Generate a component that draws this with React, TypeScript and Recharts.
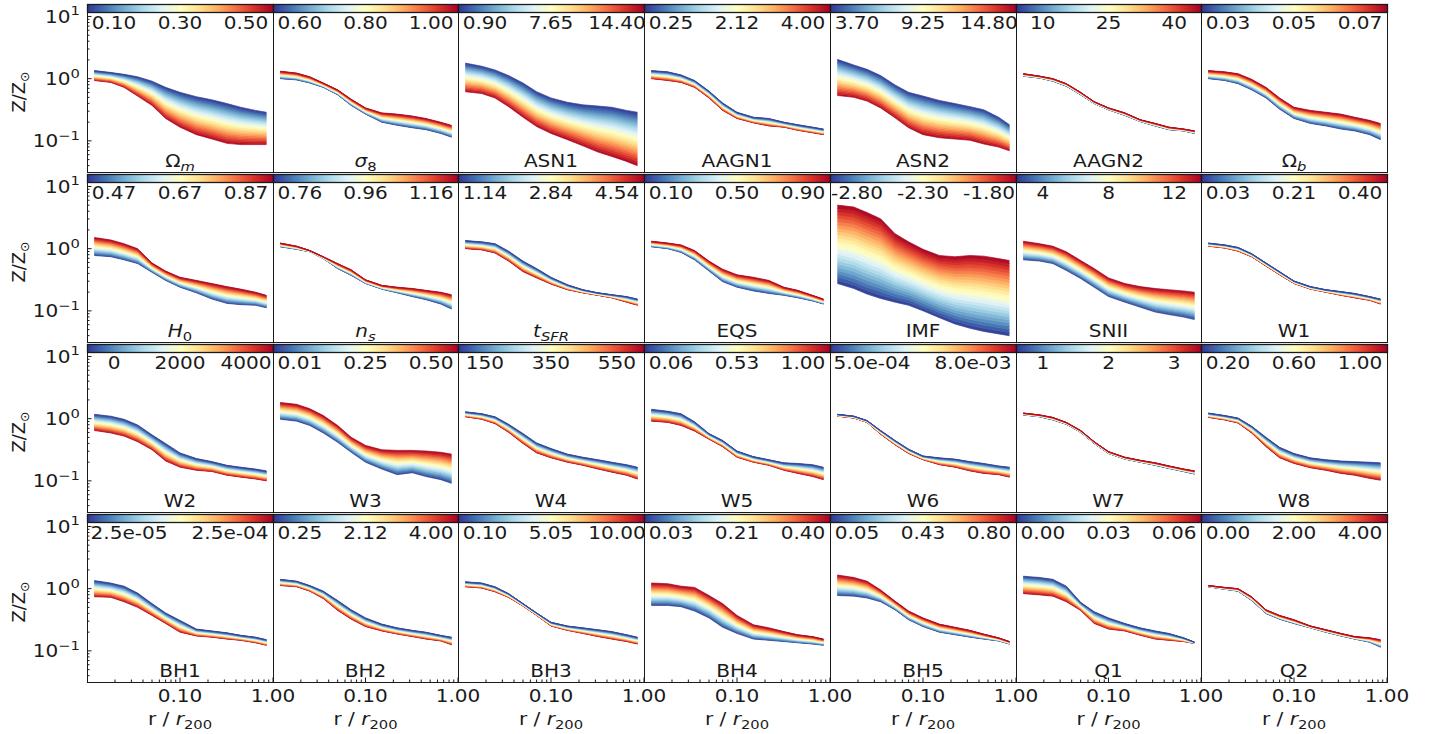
import { Area, ComposedChart, XAxis, YAxis } from "recharts";

// radial bins, r / r200
const radii = [0.012, 0.018, 0.025, 0.035, 0.05, 0.07, 0.1, 0.15, 0.22, 0.32, 0.45, 0.65, 0.85];

// log10(Z/Zsun): upper and lower edge of each family of profiles, read per radius
const omegaMTop = [0.13, 0.1, 0.07, 0.03, -0.04, -0.14, -0.22, -0.29, -0.34, -0.4, -0.46, -0.51, -0.54];
const omegaMBottom = [-0.03, -0.06, -0.14, -0.28, -0.43, -0.64, -0.78, -0.9, -0.97, -1.04, -1.06, -1.06, -1.06];
const sigma8Top = [0.12, 0.09, 0.03, -0.07, -0.18, -0.33, -0.47, -0.55, -0.57, -0.6, -0.64, -0.7, -0.75];
const sigma8Bottom = [0.0, -0.02, -0.07, -0.14, -0.26, -0.43, -0.57, -0.7, -0.75, -0.79, -0.82, -0.88, -0.94];
const asn1Top = [0.25, 0.2, 0.14, 0.05, -0.07, -0.21, -0.31, -0.38, -0.42, -0.44, -0.46, -0.51, -0.54];
const asn1Bottom = [-0.21, -0.24, -0.31, -0.45, -0.62, -0.77, -0.88, -0.98, -1.08, -1.18, -1.25, -1.33, -1.4];
const aagn1Top = [0.13, 0.11, 0.06, -0.03, -0.2, -0.39, -0.54, -0.62, -0.64, -0.7, -0.74, -0.78, -0.81];
const aagn1Bottom = [0.0, -0.03, -0.06, -0.14, -0.31, -0.51, -0.64, -0.71, -0.76, -0.78, -0.83, -0.87, -0.9];
const asn2Top = [0.31, 0.22, 0.15, 0.05, -0.1, -0.22, -0.28, -0.35, -0.4, -0.45, -0.5, -0.62, -0.74];
const asn2Bottom = [-0.27, -0.3, -0.36, -0.47, -0.63, -0.79, -0.9, -0.95, -0.97, -0.99, -1.05, -1.1, -1.16];
const aagn2Top = [0.08, 0.04, 0.0, -0.08, -0.22, -0.37, -0.47, -0.55, -0.66, -0.72, -0.78, -0.81, -0.84];
const aagn2Bottom = [0.04, 0.01, -0.04, -0.12, -0.26, -0.4, -0.5, -0.59, -0.69, -0.76, -0.82, -0.84, -0.88];
const omegaBTop = [0.13, 0.11, 0.08, -0.01, -0.14, -0.31, -0.46, -0.51, -0.54, -0.57, -0.62, -0.67, -0.72];
const omegaBBottom = [0.0, -0.03, -0.08, -0.18, -0.31, -0.49, -0.64, -0.72, -0.76, -0.81, -0.84, -0.9, -0.98];

const h0Top = [0.18, 0.14, 0.08, 0.0, -0.23, -0.36, -0.46, -0.51, -0.56, -0.61, -0.65, -0.7, -0.75];
const h0Bottom = [-0.11, -0.13, -0.18, -0.24, -0.38, -0.51, -0.62, -0.71, -0.81, -0.88, -0.9, -0.91, -0.95];
const nsTop = [0.09, 0.04, -0.03, -0.13, -0.24, -0.34, -0.5, -0.59, -0.62, -0.64, -0.67, -0.7, -0.74];
const nsBottom = [0.03, -0.01, -0.05, -0.16, -0.32, -0.43, -0.56, -0.65, -0.71, -0.77, -0.82, -0.89, -0.97];
const tsfrTop = [0.13, 0.11, 0.08, -0.04, -0.2, -0.32, -0.46, -0.58, -0.66, -0.71, -0.74, -0.77, -0.81];
const tsfrBottom = [0.0, -0.02, -0.07, -0.2, -0.37, -0.47, -0.57, -0.66, -0.71, -0.75, -0.79, -0.86, -0.91];
const eqsTop = [0.12, 0.09, 0.06, -0.03, -0.2, -0.33, -0.42, -0.46, -0.51, -0.62, -0.67, -0.75, -0.81];
const eqsBottom = [0.03, 0.0, -0.06, -0.18, -0.36, -0.53, -0.62, -0.68, -0.72, -0.75, -0.79, -0.84, -0.89];
const imfTop = [0.7, 0.67, 0.58, 0.48, 0.24, 0.11, -0.01, -0.11, -0.13, -0.11, -0.12, -0.16, -0.19];
const imfBottom = [-0.56, -0.64, -0.73, -0.8, -0.86, -0.91, -1.0, -1.11, -1.21, -1.28, -1.33, -1.37, -1.4];
const sniiTop = [0.12, 0.08, 0.04, -0.05, -0.19, -0.32, -0.47, -0.56, -0.61, -0.64, -0.66, -0.68, -0.7];
const sniiBottom = [-0.18, -0.2, -0.24, -0.35, -0.48, -0.62, -0.77, -0.86, -0.94, -1.02, -1.06, -1.1, -1.14];
const w1Top = [0.09, 0.06, 0.02, -0.08, -0.23, -0.37, -0.52, -0.61, -0.66, -0.69, -0.72, -0.77, -0.81];
const w1Bottom = [0.04, 0.01, -0.04, -0.13, -0.28, -0.42, -0.56, -0.65, -0.7, -0.75, -0.79, -0.83, -0.89];

const w2Top = [0.07, 0.04, -0.01, -0.1, -0.26, -0.4, -0.55, -0.64, -0.69, -0.75, -0.78, -0.81, -0.84];
const w2Bottom = [-0.19, -0.23, -0.28, -0.37, -0.5, -0.68, -0.78, -0.83, -0.85, -0.91, -0.94, -0.97, -1.0];
const w3Top = [0.26, 0.23, 0.16, 0.05, -0.11, -0.3, -0.43, -0.5, -0.51, -0.51, -0.52, -0.54, -0.57];
const w3Bottom = [-0.01, -0.04, -0.11, -0.23, -0.38, -0.54, -0.7, -0.81, -0.9, -0.87, -0.93, -0.98, -1.04];
const w4Top = [0.11, 0.08, 0.03, -0.09, -0.24, -0.39, -0.48, -0.57, -0.62, -0.66, -0.7, -0.74, -0.78];
const w4Bottom = [0.03, -0.01, -0.08, -0.22, -0.4, -0.55, -0.63, -0.7, -0.75, -0.81, -0.86, -0.91, -0.97];
const w5Top = [0.15, 0.12, 0.08, -0.05, -0.24, -0.35, -0.52, -0.61, -0.66, -0.71, -0.72, -0.74, -0.78];
const w5Bottom = [-0.04, -0.06, -0.11, -0.2, -0.33, -0.45, -0.62, -0.7, -0.75, -0.83, -0.88, -0.93, -0.98];
const w6Top = [0.07, 0.04, -0.03, -0.19, -0.35, -0.49, -0.6, -0.63, -0.65, -0.69, -0.72, -0.76, -0.78];
const w6Bottom = [0.04, 0.01, -0.06, -0.25, -0.42, -0.56, -0.66, -0.74, -0.78, -0.84, -0.88, -0.9, -0.94];
const w7Top = [0.09, 0.06, 0.02, -0.06, -0.19, -0.37, -0.53, -0.62, -0.67, -0.71, -0.76, -0.81, -0.84];
const w7Bottom = [0.06, 0.03, -0.02, -0.09, -0.22, -0.4, -0.56, -0.65, -0.7, -0.75, -0.8, -0.85, -0.89];
const w8Top = [0.09, 0.05, 0.01, -0.12, -0.3, -0.46, -0.56, -0.63, -0.66, -0.68, -0.69, -0.7, -0.71];
const w8Bottom = [0.02, -0.02, -0.07, -0.23, -0.45, -0.63, -0.72, -0.79, -0.83, -0.88, -0.91, -0.96, -0.99];

const bh1Top = [0.13, 0.09, 0.04, -0.07, -0.24, -0.39, -0.51, -0.65, -0.68, -0.71, -0.75, -0.78, -0.82];
const bh1Bottom = [-0.13, -0.14, -0.21, -0.3, -0.43, -0.56, -0.7, -0.76, -0.78, -0.81, -0.83, -0.87, -0.91];
const bh2Top = [0.15, 0.12, 0.05, -0.04, -0.19, -0.34, -0.47, -0.57, -0.63, -0.67, -0.7, -0.75, -0.78];
const bh2Bottom = [0.05, 0.03, -0.04, -0.16, -0.35, -0.49, -0.61, -0.68, -0.73, -0.77, -0.81, -0.84, -0.9];
const bh3Top = [0.11, 0.09, 0.03, -0.08, -0.24, -0.39, -0.54, -0.6, -0.63, -0.66, -0.69, -0.74, -0.78];
const bh3Bottom = [0.03, 0.01, -0.05, -0.14, -0.28, -0.43, -0.6, -0.67, -0.72, -0.77, -0.81, -0.85, -0.89];
const bh4Top = [0.09, 0.08, 0.04, 0.02, -0.11, -0.24, -0.43, -0.58, -0.63, -0.69, -0.74, -0.77, -0.81];
const bh4Bottom = [-0.27, -0.27, -0.29, -0.36, -0.47, -0.62, -0.72, -0.81, -0.83, -0.85, -0.87, -0.89, -0.91];
const bh5Top = [0.22, 0.18, 0.12, -0.02, -0.2, -0.36, -0.47, -0.57, -0.62, -0.67, -0.73, -0.79, -0.85];
const bh5Bottom = [-0.11, -0.12, -0.15, -0.21, -0.34, -0.5, -0.61, -0.7, -0.74, -0.78, -0.81, -0.84, -0.89];
const q1Top = [0.2, 0.18, 0.15, 0.04, -0.22, -0.37, -0.47, -0.56, -0.63, -0.68, -0.72, -0.79, -0.86];
const q1Bottom = [-0.08, -0.1, -0.12, -0.21, -0.35, -0.56, -0.65, -0.68, -0.75, -0.81, -0.83, -0.85, -0.88];
const q2Top = [0.05, 0.02, 0.0, -0.13, -0.34, -0.43, -0.5, -0.6, -0.66, -0.72, -0.77, -0.79, -0.82];
const q2Bottom = [0.03, -0.01, -0.04, -0.19, -0.4, -0.49, -0.56, -0.63, -0.7, -0.76, -0.81, -0.86, -0.94];

// colourbar tick labels, one list per row of panels
const cbarRow1 = [["0.10", "0.30", "0.50"], ["0.60", "0.80", "1.00"], ["0.90", "7.65", "14.40"], ["0.25", "2.12", "4.00"], ["3.70", "9.25", "14.80"], ["10", "25", "40"], ["0.03", "0.05", "0.07"]];
const cbarRow2 = [["0.47", "0.67", "0.87"], ["0.76", "0.96", "1.16"], ["1.14", "2.84", "4.54"], ["0.10", "0.50", "0.90"], ["-2.80", "-2.30", "-1.80"], ["4", "8", "12"], ["0.03", "0.21", "0.40"]];
const cbarRow3 = [["0", "2000", "4000"], ["0.01", "0.25", "0.50"], ["150", "350", "550"], ["0.06", "0.53", "1.00"], ["5.0e-04", "8.0e-03"], ["1", "2", "3"], ["0.20", "0.60", "1.00"]];
const cbarRow4 = [["2.5e-05", "2.5e-04"], ["0.25", "2.12", "4.00"], ["0.10", "5.05", "10.00"], ["0.03", "0.21", "0.40"], ["0.05", "0.43", "0.80"], ["0.00", "0.03", "0.06"], ["0.00", "2.00", "4.00"]];

const xTicks = [0.02, 0.03, 0.04, 0.05, 0.06, 0.07, 0.08, 0.09, 0.1, 0.2, 0.3, 0.4, 0.5, 0.6, 0.7, 0.8, 0.9, 1];
const yTicks = [0.04, 0.05, 0.06, 0.07, 0.08, 0.09, 0.1, 0.2, 0.3, 0.4, 0.5, 0.6, 0.7, 0.8, 0.9, 1, 2, 3, 4, 5, 6, 7, 8, 9, 10];

type Panel = {
  name: string; sub?: string; nameIt?: boolean; subIt?: boolean;
  top: number[]; bottom: number[]; redOnTop: boolean; cbar: string[];
};

const panels: Panel[][] = [
  [
    { name: "Ω", sub: "m", subIt: true, top: omegaMTop, bottom: omegaMBottom, redOnTop: false, cbar: cbarRow1[0] },
    { name: "σ", sub: "8", nameIt: true, top: sigma8Top, bottom: sigma8Bottom, redOnTop: true, cbar: cbarRow1[1] },
    { name: "ASN1", top: asn1Top, bottom: asn1Bottom, redOnTop: false, cbar: cbarRow1[2] },
    { name: "AAGN1", top: aagn1Top, bottom: aagn1Bottom, redOnTop: false, cbar: cbarRow1[3] },
    { name: "ASN2", top: asn2Top, bottom: asn2Bottom, redOnTop: false, cbar: cbarRow1[4] },
    { name: "AAGN2", top: aagn2Top, bottom: aagn2Bottom, redOnTop: true, cbar: cbarRow1[5] },
    { name: "Ω", sub: "b", subIt: true, top: omegaBTop, bottom: omegaBBottom, redOnTop: true, cbar: cbarRow1[6] },
  ],
  [
    { name: "H", sub: "0", nameIt: true, top: h0Top, bottom: h0Bottom, redOnTop: true, cbar: cbarRow2[0] },
    { name: "n", sub: "s", nameIt: true, subIt: true, top: nsTop, bottom: nsBottom, redOnTop: true, cbar: cbarRow2[1] },
    { name: "t", sub: "SFR", nameIt: true, subIt: true, top: tsfrTop, bottom: tsfrBottom, redOnTop: false, cbar: cbarRow2[2] },
    { name: "EQS", top: eqsTop, bottom: eqsBottom, redOnTop: true, cbar: cbarRow2[3] },
    { name: "IMF", top: imfTop, bottom: imfBottom, redOnTop: true, cbar: cbarRow2[4] },
    { name: "SNII", top: sniiTop, bottom: sniiBottom, redOnTop: true, cbar: cbarRow2[5] },
    { name: "W1", top: w1Top, bottom: w1Bottom, redOnTop: false, cbar: cbarRow2[6] },
  ],
  [
    { name: "W2", top: w2Top, bottom: w2Bottom, redOnTop: false, cbar: cbarRow3[0] },
    { name: "W3", top: w3Top, bottom: w3Bottom, redOnTop: true, cbar: cbarRow3[1] },
    { name: "W4", top: w4Top, bottom: w4Bottom, redOnTop: false, cbar: cbarRow3[2] },
    { name: "W5", top: w5Top, bottom: w5Bottom, redOnTop: false, cbar: cbarRow3[3] },
    { name: "W6", top: w6Top, bottom: w6Bottom, redOnTop: false, cbar: cbarRow3[4] },
    { name: "W7", top: w7Top, bottom: w7Bottom, redOnTop: true, cbar: cbarRow3[5] },
    { name: "W8", top: w8Top, bottom: w8Bottom, redOnTop: false, cbar: cbarRow3[6] },
  ],
  [
    { name: "BH1", top: bh1Top, bottom: bh1Bottom, redOnTop: false, cbar: cbarRow4[0] },
    { name: "BH2", top: bh2Top, bottom: bh2Bottom, redOnTop: false, cbar: cbarRow4[1] },
    { name: "BH3", top: bh3Top, bottom: bh3Bottom, redOnTop: false, cbar: cbarRow4[2] },
    { name: "BH4", top: bh4Top, bottom: bh4Bottom, redOnTop: true, cbar: cbarRow4[3] },
    { name: "BH5", top: bh5Top, bottom: bh5Bottom, redOnTop: true, cbar: cbarRow4[4] },
    { name: "Q1", top: q1Top, bottom: q1Bottom, redOnTop: false, cbar: cbarRow4[5] },
    { name: "Q2", top: q2Top, bottom: q2Bottom, redOnTop: true, cbar: cbarRow4[6] },
  ],
];

// RdYlBu_r
const CMAP = ["#313695", "#4575b4", "#74add1", "#abd9e9", "#e0f3f8", "#ffffbf", "#fee090", "#fdae61", "#f46d43", "#d73027", "#a50026"];

function cmap(t: number) {
  const p = Math.max(0, Math.min(1, t)) * 10;
  const i = Math.min(9, Math.floor(p));
  const f = p - i;
  const a = CMAP[i], b = CMAP[i + 1];
  const ch = (s: string, k: number) => parseInt(s.slice(1 + 2 * k, 3 + 2 * k), 16);
  const c = [0, 1, 2].map((k) => Math.round(ch(a, k) + (ch(b, k) - ch(a, k)) * f));
  return `rgb(${c[0]},${c[1]},${c[2]})`;
}

const LEFTS = [87, 273, 458, 644, 830, 1016, 1201, 1387];
const TOP0 = 4;
const ROW_PITCH = 170;
const PLOT_H = 168;
const SLICES = 24;
const FONT = "DejaVu Sans";
const INK = "#1a1a1a";
const FS = 17;
const SUB = 12.5;
const STRETCH = 1.18; // the figure text is a bit wider than it is tall

const isMajor = (v: number) => Math.abs(Math.log10(v) - Math.round(Math.log10(v))) < 1e-6;

// horizontally stretched text anchored at (x, y)
function Wide({ x, y, anchor, children }: { x: number; y: number; anchor: "start" | "middle" | "end"; children: any }) {
  return (
    <g transform={`translate(${x},${y}) scale(${STRETCH},1)`}>
      <text x={0} y={0} textAnchor={anchor} fontSize={FS} fontFamily={FONT} fill={INK}>
        {children}
      </text>
    </g>
  );
}

function YTick(props: any) {
  const { x, y, payload, showLabel } = props;
  const major = isMajor(payload.value);
  const e = Math.round(Math.log10(payload.value));
  return (
    <g>
      <line x1={x} x2={x + (major ? 4.5 : 2.5)} y1={y} y2={y} stroke={INK} strokeWidth={1} />
      {showLabel && major && (
        <Wide x={x - 7} y={y + 6.5} anchor="end">
          10<tspan dy={-7.5} fontSize={SUB}>{e < 0 ? "\u2212" + -e : String(e)}</tspan>
        </Wide>
      )}
    </g>
  );
}

function XTick(props: any) {
  const { x, y, payload, showLabel } = props;
  const major = isMajor(payload.value);
  return (
    <g>
      <line x1={x} x2={x} y1={y} y2={y - (major ? 4.5 : 2.5)} stroke={INK} strokeWidth={1} />
      {showLabel && major && (
        <Wide x={x} y={y + 19.5} anchor="middle">
          {payload.value.toFixed(2)}
        </Wide>
      )}
    </g>
  );
}

function PanelChart({ p, row, col }: { p: Panel; row: number; col: number }) {
  const L = LEFTS[col];
  const W = LEFTS[col + 1] - L;
  const T = TOP0 + row * ROW_PITCH;
  const yw = col === 0 ? L : 0;
  const xh = row === 3 ? 40 : 0;
  const data = radii.map((r, i) => {
    const d: Record<string, any> = { r };
    const lo = p.bottom[i], hi = p.top[i];
    for (let k = 0; k < SLICES; k++) {
      const a = lo + ((hi - lo) * k) / SLICES;
      const b = lo + ((hi - lo) * (k + 1)) / SLICES;
      d["s" + k] = [Math.pow(10, a), Math.pow(10, b)];
    }
    return d;
  });
  const slices = Array.from({ length: SLICES }, (_, k) => k);
  return (
    <div style={{ position: "absolute", left: L - yw, top: T }}>
      <ComposedChart width={W + yw} height={PLOT_H + xh} data={data} margin={{ top: 0, right: 0, bottom: 0, left: 0 }}>
        <XAxis
          dataKey="r"
          type="number"
          scale="log"
          domain={[0.01, 1]}
          allowDataOverflow
          ticks={xTicks}
          interval={0}
          height={xh}
          axisLine={false}
          tickLine={false}
          tickSize={0}
          tickMargin={0}
          tick={(tp: any) => <XTick {...tp} showLabel={row === 3} />}
        />
        <YAxis
          yAxisId="z"
          type="number"
          scale="log"
          domain={[0.0316, 15.85]}
          allowDataOverflow
          ticks={yTicks}
          interval={0}
          width={yw}
          axisLine={false}
          tickLine={false}
          tickSize={0}
          tickMargin={0}
          tick={(tp: any) => <YTick {...tp} showLabel={col === 0} />}
        />
        {slices.map((k) => {
          const t = (k + 0.5) / SLICES;
          const c = cmap(p.redOnTop ? t : 1 - t);
          return (
            <Area
              key={k}
              yAxisId="z"
              dataKey={"s" + k}
              type="linear"
              fill={c}
              fillOpacity={1}
              stroke={c}
              strokeWidth={0.7}
              dot={false}
              activeDot={false}
              isAnimationActive={false}
            />
          );
        })}
      </ComposedChart>
    </div>
  );
}

function Overlay() {
  const items: any[] = [];
  panels.forEach((rowPanels, row) => {
    const T = TOP0 + row * ROW_PITCH;
    items.push(
      <text key={"yl" + row} transform={`translate(25, ${T + 88}) rotate(-90)`} textAnchor="middle" fontSize={FS + 1} fontFamily={FONT} fill={INK}>
        Z/Z<tspan dy={4} fontSize={SUB}>{"\u2299"}</tspan>
      </text>
    );
    rowPanels.forEach((p, col) => {
      const L = LEFTS[col];
      const W = LEFTS[col + 1] - L;
      const pos = p.cbar.length === 3 ? [27, 93, 159] : [42, 143];
      items.push(<rect key={`f${row}${col}`} x={L + 0.5} y={T + 0.5} width={W} height={PLOT_H} fill="none" stroke={INK} strokeWidth={1} />);
      items.push(<rect key={`c${row}${col}`} x={L + 0.5} y={T + 0.5} width={W} height={8} fill="url(#cbar)" stroke={INK} strokeWidth={1.3} />);
      p.cbar.forEach((s, i) => {
        items.push(
          <Wide key={`t${row}${col}${i}`} x={L + (pos[i] * W) / 186} y={T + 25} anchor="middle">
            {s}
          </Wide>
        );
      });
      items.push(
        <Wide key={`n${row}${col}`} x={L + W / 2} y={T + 163} anchor="middle">
          <tspan fontStyle={p.nameIt ? "italic" : "normal"}>{p.name}</tspan>
          {p.sub && (
            <tspan dy={4} fontSize={SUB} fontStyle={p.subIt ? "italic" : "normal"}>
              {p.sub}
            </tspan>
          )}
        </Wide>
      );
      if (row === 3) {
        items.push(
          <Wide key={`xl${col}`} x={L + W / 2} y={T + PLOT_H + 43} anchor="middle">
            r / <tspan fontStyle="italic">r</tspan>
            <tspan dy={4} fontSize={SUB}>200</tspan>
          </Wide>
        );
      }
    });
  });
  return (
    <svg width={1436} height={734} style={{ position: "absolute", left: 0, top: 0, pointerEvents: "none" }}>
      <defs>
        <linearGradient id="cbar" x1="0" x2="1" y1="0" y2="0">
          {CMAP.map((c, i) => (
            <stop key={i} offset={i / 10} stopColor={c} />
          ))}
        </linearGradient>
      </defs>
      {items}
    </svg>
  );
}

export default function App() {
  return (
    <div style={{ position: "absolute", left: 0, top: 0, width: 1436, height: 734, background: "#fff", fontFamily: FONT, overflow: "hidden" }}>
      <style>{`.recharts-surface{overflow:visible}`}</style>
      {panels.map((rowPanels, row) =>
        rowPanels.map((p, col) => <PanelChart key={`${row}-${col}`} p={p} row={row} col={col} />)
      )}
      <Overlay />
    </div>
  );
}
